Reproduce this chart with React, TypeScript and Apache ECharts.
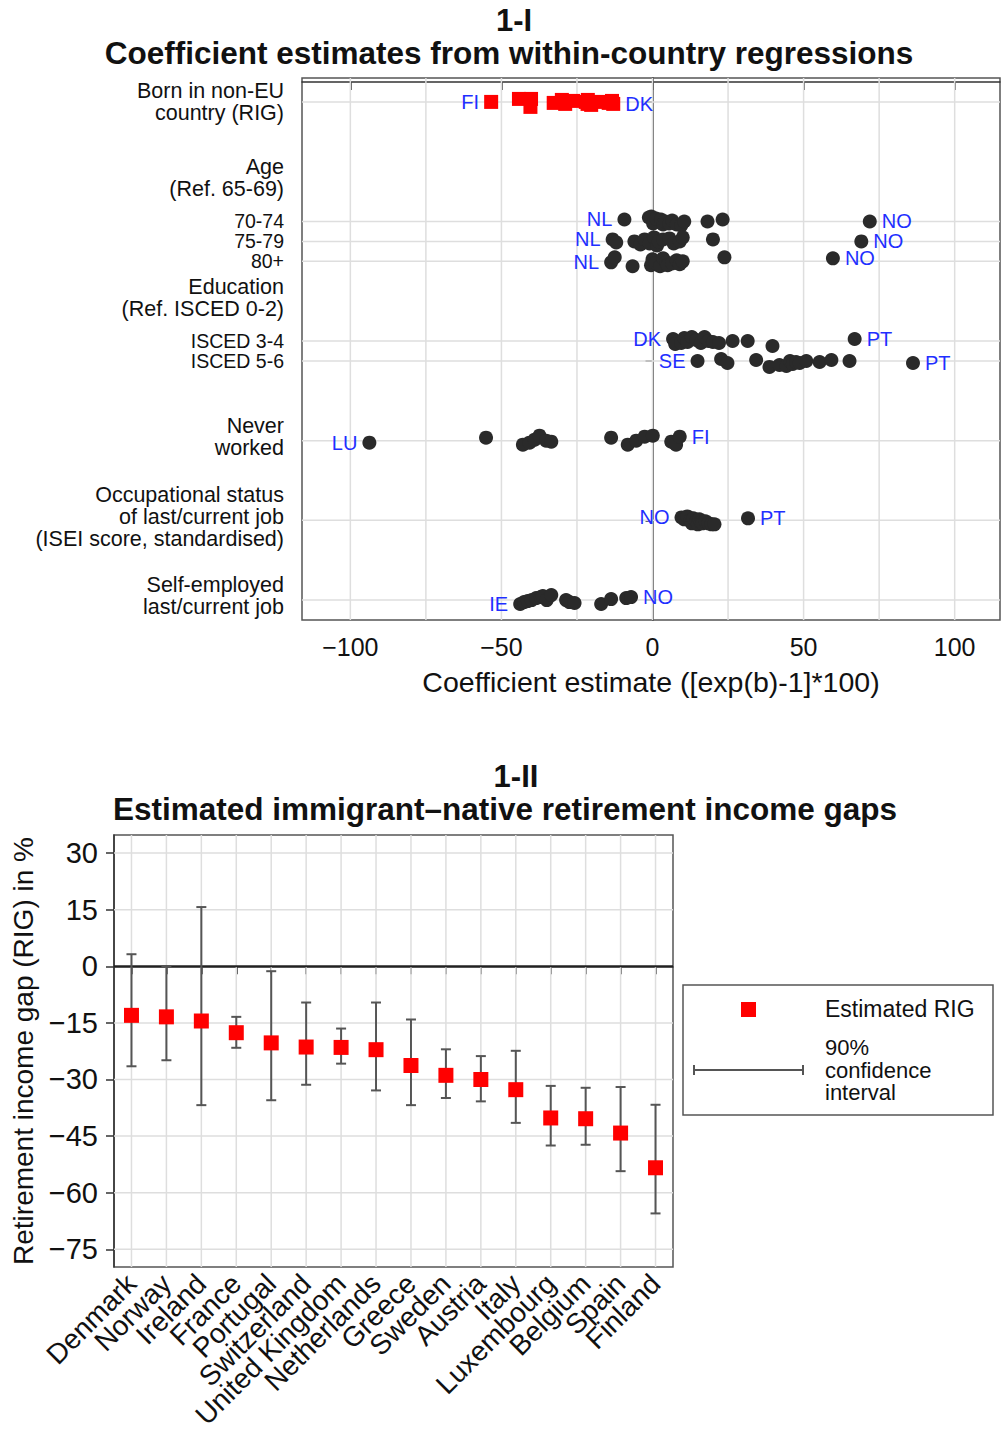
import React, { useEffect, useRef } from "react";
import * as echarts from "echarts";

const FONT = "Liberation Sans, Arial, Helvetica, sans-serif";
const BLUE = "#1f2fff";
const DOT = "#2a2a2a";
const RED = "#ff0000";

// ---------- Panel 1-II data ----------
const countries = [
  "Denmark", "Norway", "Ireland", "France", "Portugal", "Switzerland",
  "United Kingdom", "Netherlands", "Greece", "Sweden", "Austria", "Italy",
  "Luxembourg", "Belgium", "Spain", "Finland",
];
const rig = [-13.0, -13.4, -14.5, -17.6, -20.3, -21.4, -21.5, -22.1, -26.3, -28.9, -30.0, -32.7, -40.2, -40.4, -44.2, -53.4];
const ciUpper = [3.2, 0.0, 15.7, -13.4, -1.3, -9.6, -16.5, -9.6, -14.1, -22.0, -23.8, -22.4, -31.7, -32.2, -32.0, -36.7];
const ciLower = [-26.5, -24.9, -36.8, -21.6, -35.5, -31.4, -25.8, -32.9, -36.8, -34.9, -35.8, -41.5, -47.5, -47.3, -54.3, -65.5];
const bottomYTicks = [-75, -60, -45, -30, -15, 0, 15, 30];

// ---------- Panel 1-I data ----------
const rigJitter = [0.1, -0.05, 0.05, 0.0, 0.15, -0.1, 0.1, 0.0, -0.05, 0.1, -0.1, 0.05, -0.15, 0.25, -0.15, 0.0];

const age7074 = [-9.3, -1.2, -0.4, 0.2, 1.2, 2.8, 3.5, 4.2, 5.5, 6.5, 8.0, 9.5, 10.5, 18.2, 23.2, 71.9];
const age7074Jit = [-0.1, -0.2, -0.25, 0.1, -0.15, -0.1, 0.15, 0.0, 0.1, -0.05, 0.15, 0.2, 0.0, 0.0, -0.1, 0.0];
const age7579 = [-13.2, -12.0, -6.0, -4.0, -2.6, -1.0, 0.5, 1.5, 2.0, 3.5, 5.6, 7.0, 9.0, 10.0, 20.0, 69.1];
const age7579Jit = [-0.1, 0.05, 0.0, 0.15, -0.1, 0.1, -0.2, 0.2, 0.0, -0.1, -0.15, 0.1, 0.0, -0.2, -0.1, 0.0];
const age80 = [-13.7, -12.5, -6.6, -0.5, 0.0, 1.0, 2.5, 3.5, 4.5, 5.0, 6.5, 8.0, 9.0, 10.0, 23.8, 59.7];
const age80Jit = [0.05, -0.2, 0.25, 0.2, -0.1, 0.1, 0.25, -0.15, 0.05, 0.2, 0.1, -0.05, 0.15, 0.0, -0.2, -0.15];
const isced34 = [6.8, 7.5, 9.5, 10.5, 11.6, 13.0, 14.5, 16.0, 17.2, 18.5, 20.0, 22.0, 26.5, 31.5, 39.7, 66.9];
const isced34Jit = [-0.1, 0.15, 0.1, -0.15, 0.05, -0.2, -0.05, 0.1, -0.2, 0.0, 0.05, 0.1, 0.0, 0.0, 0.25, -0.1];
const isced56 = [14.9, 22.7, 24.8, 34.3, 38.7, 42.0, 44.3, 45.5, 46.4, 47.5, 48.7, 50.9, 55.3, 59.2, 65.2, 86.2];
const isced56Jit = [0.0, -0.1, 0.1, -0.05, 0.3, 0.2, 0.25, 0.0, 0.15, 0.05, 0.1, 0.0, 0.05, -0.05, 0.0, 0.1];
const neverWorked = [-93.7, -55.1, -42.9, -40.7, -39.0, -37.4, -35.2, -33.5, -13.7, -8.2, -5.4, -2.6, 0.1, 6.2, 7.8, 9.0];
const neverWorkedJit = [0.1, -0.15, 0.2, 0.1, -0.05, -0.25, 0.0, 0.05, -0.15, 0.2, 0.0, -0.2, -0.25, 0.05, 0.2, -0.2];
const occStatus = [9.6, 10.5, 11.5, 12.5, 13.0, 13.5, 14.5, 15.0, 15.5, 16.0, 16.5, 17.5, 18.5, 19.5, 20.5, 31.6];
const occStatusJit = [-0.15, -0.05, -0.2, 0.0, 0.15, -0.1, 0.05, 0.2, -0.05, 0.1, 0.15, 0.05, 0.15, 0.2, 0.2, -0.1];
const selfEmployed = [-43.8, -42.5, -41.3, -40.0, -38.5, -37.0, -36.3, -35.0, -33.5, -28.6, -27.5, -25.8, -17.0, -13.7, -8.7, -7.1];
const selfEmployedJit = [0.2, 0.1, 0.05, 0.0, -0.1, -0.15, -0.2, 0.0, -0.25, 0.0, 0.1, 0.15, 0.2, -0.05, -0.1, -0.15];

const topXTicks = [-100, -50, 0, 50, 100];
const topXGrid = [-100, -75, -50, -25, 0, 25, 50, 75, 100];
const topRows = [1, 7, 8, 9, 13, 14, 18, 22, 26];
const topLabelPos = [1, 4.84, 7, 8, 9, 10.86, 13, 14, 17.84, 21.85, 25.8];
const topLabelText = [
  "Born in non-EU\ncountry (RIG)",
  "Age\n(Ref. 65-69)",
  "70-74",
  "75-79",
  "80+",
  "Education\n(Ref. ISCED 0-2)",
  "ISCED 3-4",
  "ISCED 5-6",
  "Never\nworked",
  "Occupational status\nof last/current job\n(ISEI score, standardised)",
  "Self-employed\nlast/current job",
];

const blackRows = [
  { pos: 7, vals: age7074, jit: age7074Jit, left: "NL", right: "NO" },
  { pos: 8, vals: age7579, jit: age7579Jit, left: "NL", right: "NO" },
  { pos: 9, vals: age80, jit: age80Jit, left: "NL", right: "NO" },
  { pos: 13, vals: isced34, jit: isced34Jit, left: "DK", right: "PT" },
  { pos: 14, vals: isced56, jit: isced56Jit, left: "SE", right: "PT" },
  { pos: 18, vals: neverWorked, jit: neverWorkedJit, left: "LU", right: "FI" },
  { pos: 22, vals: occStatus, jit: occStatusJit, left: "NO", right: "PT" },
  { pos: 26, vals: selfEmployed, jit: selfEmployedJit, left: "IE", right: "NO" },
];

const minus = (v: number) => (v < 0 ? "\u2212" + Math.abs(v) : String(v));

function lab(text: string, position: string) {
  return {
    show: true,
    position,
    distance: 5,
    formatter: text,
    color: BLUE,
    fontSize: 20,
    lineHeight: 17,
    fontFamily: FONT,
  };
}

function rowItems(vals: number[], jit: number[], pos: number, left: string, right: string) {
  const mn = Math.min(...vals);
  const mx = Math.max(...vals);
  const iMin = vals.indexOf(mn);
  const iMax = vals.indexOf(mx);
  return vals.map((v, i) => {
    const item: any = { value: [v, pos + jit[i]] };
    if (i === iMin) item.label = lab(left, "left");
    if (i === iMax) item.label = lab(right, "right");
    return item;
  });
}

const App: React.FC = () => {
  const ref = useRef<HTMLDivElement>(null);

  useEffect(() => {
    document.body.style.margin = "0";
    if (!ref.current) return;
    const chart = echarts.init(ref.current, undefined, { renderer: "svg" });

    const blackData: any[] = [];
    blackRows.forEach((r) => blackData.push(...rowItems(r.vals, r.jit, r.pos, r.left, r.right)));
    const redData = rowItems(rig, rigJitter, 1, "FI", "DK");

    const gridStroke = "#dedede";

    const option: any = {
      animation: false,
      backgroundColor: "#ffffff",
      textStyle: { fontFamily: FONT, color: "#111" },
      grid: [
        { left: 302, top: 78, width: 698, height: 542, show: true, borderColor: "#555", borderWidth: 1.5, backgroundColor: "#fff" },
        { left: 114, top: 835, width: 559, height: 432, show: true, borderColor: "#555", borderWidth: 1.5, backgroundColor: "#fff" },
      ],
      xAxis: [
        {
          type: "value", gridIndex: 0, min: -116, max: 115,
          splitLine: { show: false },
          axisLine: { show: true, lineStyle: { color: "#333", width: 1.5 } },
          axisTick: { show: true, customValues: topXTicks, length: 8, lineStyle: { color: "#333", width: 1.5 } },
          axisLabel: { customValues: topXTicks, fontSize: 25, color: "#111", margin: 14, fontFamily: FONT, formatter: minus },
          name: "Coefficient estimate ([exp(b)-1]*100)",
          nameLocation: "middle", nameGap: 47,
          nameTextStyle: { fontSize: 28.5, color: "#111", fontFamily: FONT },
        },
        {
          type: "category", gridIndex: 1, data: countries, boundaryGap: true,
          splitLine: { show: false },
          axisLine: { show: true, lineStyle: { color: "#333", width: 1.5 } },
          axisTick: { show: true, alignWithLabel: true, length: 8, lineStyle: { color: "#333", width: 1.5 } },
          axisLabel: { interval: 0, rotate: 45, fontSize: 28, color: "#111", margin: 12, fontFamily: FONT },
        },
      ],
      yAxis: [
        {
          type: "value", gridIndex: 0, inverse: true, min: -0.2, max: 27,
          splitLine: { show: false },
          axisLine: { show: true, lineStyle: { color: "#333", width: 1.5 } },
          axisTick: { show: true, customValues: topRows, length: 7, lineStyle: { color: "#333", width: 1.5 } },
          axisLabel: {
            customValues: topLabelPos,
            color: "#111", margin: 18, fontFamily: FONT,
            formatter: (v: number) => {
              const i = topLabelPos.findIndex((p) => Math.abs(p - v) < 0.01);
              if (i < 0) return "";
              const t = topLabelText[i];
              if (t.indexOf("\n") >= 0) {
                return t.split("\n").map((s) => `{m|${s}}`).join("\n");
              }
              return `{s|${t}}`;
            },
            rich: {
              m: { fontSize: 21.5, lineHeight: 22, fontFamily: FONT, color: "#111", align: "right" },
              s: { fontSize: 19.5, lineHeight: 18, fontFamily: FONT, color: "#111", align: "right" },
            },
          },
        },
        {
          type: "value", gridIndex: 1, min: -79.7, max: 34.8,
          splitLine: { show: false },
          axisLine: { show: true, lineStyle: { color: "#333", width: 1.5 } },
          axisTick: { show: true, customValues: bottomYTicks, length: 8, lineStyle: { color: "#333", width: 1.5 } },
          axisLabel: { customValues: bottomYTicks, fontSize: 29, color: "#111", margin: 16, fontFamily: FONT, formatter: minus },
          name: "Retirement income gap (RIG) in %",
          nameLocation: "middle", nameGap: 75,
          nameTextStyle: { fontSize: 28, color: "#111", fontFamily: FONT },
        },
      ],
      series: [
        {
          type: "custom", xAxisIndex: 0, yAxisIndex: 0, silent: true, z: 1,
          data: topXGrid.map((v) => [v, 0]),
          renderItem: (params: any, api: any) => {
            const cs = params.coordSys;
            const p = api.coord([api.value(0), 0]);
            return { type: "line", shape: { x1: p[0], y1: cs.y, x2: p[0], y2: cs.y + cs.height }, style: { stroke: gridStroke, lineWidth: 1.5 } };
          },
        },
        {
          type: "custom", xAxisIndex: 0, yAxisIndex: 0, silent: true, z: 1,
          data: topRows.map((r) => [0, r]),
          renderItem: (params: any, api: any) => {
            const cs = params.coordSys;
            const p = api.coord([0, api.value(1)]);
            return { type: "line", shape: { x1: cs.x, y1: p[1], x2: cs.x + cs.width, y2: p[1] }, style: { stroke: gridStroke, lineWidth: 1.5 } };
          },
        },
        {
          type: "scatter", xAxisIndex: 0, yAxisIndex: 0, z: 3,
          symbol: "circle", symbolSize: 14,
          itemStyle: { color: DOT, opacity: 1 },
          data: blackData,
        },
        {
          type: "scatter", xAxisIndex: 0, yAxisIndex: 0, z: 4,
          symbol: "rect", symbolSize: 14,
          itemStyle: { color: RED, opacity: 1 },
          data: redData,
        },
        {
          type: "custom", xAxisIndex: 1, yAxisIndex: 1, silent: true, z: 1,
          data: countries.map((c, i) => [i, 0]),
          renderItem: (params: any, api: any) => {
            const cs = params.coordSys;
            const p = api.coord([api.value(0), 0]);
            return { type: "line", shape: { x1: p[0], y1: cs.y, x2: p[0], y2: cs.y + cs.height }, style: { stroke: gridStroke, lineWidth: 1.5 } };
          },
        },
        {
          type: "custom", xAxisIndex: 1, yAxisIndex: 1, silent: true, z: 1,
          data: bottomYTicks.map((v) => [0, v]),
          renderItem: (params: any, api: any) => {
            const cs = params.coordSys;
            const v = api.value(1);
            const p = api.coord([0, v]);
            const zero = v === 0;
            return {
              type: "line", z2: zero ? 5 : 0,
              shape: { x1: cs.x, y1: p[1], x2: cs.x + cs.width, y2: p[1] },
              style: { stroke: zero ? "#222" : gridStroke, lineWidth: zero ? 2 : 1.5 },
            };
          },
        },
        {
          type: "custom", xAxisIndex: 1, yAxisIndex: 1, z: 3, silent: true,
          data: countries.map((c, i) => [i, ciLower[i], ciUpper[i]]),
          encode: { x: 0, y: [1, 2] },
          renderItem: (params: any, api: any) => {
            const x = api.value(0);
            const lo = api.coord([x, api.value(1)]);
            const hi = api.coord([x, api.value(2)]);
            const w = 5;
            const st = { stroke: "#555", lineWidth: 2 };
            return {
              type: "group",
              children: [
                { type: "line", shape: { x1: lo[0], y1: lo[1], x2: hi[0], y2: hi[1] }, style: st },
                { type: "line", shape: { x1: lo[0] - w, y1: lo[1], x2: lo[0] + w, y2: lo[1] }, style: st },
                { type: "line", shape: { x1: hi[0] - w, y1: hi[1], x2: hi[0] + w, y2: hi[1] }, style: st },
              ],
            };
          },
        },
        {
          type: "scatter", xAxisIndex: 1, yAxisIndex: 1, z: 4,
          symbol: "rect", symbolSize: 15,
          itemStyle: { color: RED, opacity: 1 },
          data: rig,
        },
      ],
      graphic: [
        { type: "text", x: 514, y: 20, style: { text: "1-I", font: `bold 31px ${FONT}`, fill: "#111", textAlign: "center", textVerticalAlign: "middle" } },
        { type: "text", x: 509, y: 53, style: { text: "Coefficient estimates from within-country regressions", font: `bold 31.5px ${FONT}`, fill: "#111", textAlign: "center", textVerticalAlign: "middle" } },
        { type: "text", x: 516, y: 776, style: { text: "1-II", font: `bold 31px ${FONT}`, fill: "#111", textAlign: "center", textVerticalAlign: "middle" } },
        { type: "text", x: 505, y: 809, style: { text: "Estimated immigrant\u2013native retirement income gaps", font: `bold 31.5px ${FONT}`, fill: "#111", textAlign: "center", textVerticalAlign: "middle" } },
        { type: "rect", shape: { x: 683, y: 985, width: 310, height: 130 }, style: { fill: "#fff", stroke: "#555", lineWidth: 1.5 } },
        { type: "rect", shape: { x: 741, y: 1002, width: 15, height: 15 }, style: { fill: RED } },
        { type: "text", x: 825, y: 1009, style: { text: "Estimated RIG", font: `23px ${FONT}`, fill: "#111", textAlign: "left", textVerticalAlign: "middle" } },
        { type: "line", shape: { x1: 694, y1: 1070, x2: 803, y2: 1070 }, style: { stroke: "#555", lineWidth: 2 } },
        { type: "line", shape: { x1: 694, y1: 1065, x2: 694, y2: 1075 }, style: { stroke: "#555", lineWidth: 2 } },
        { type: "line", shape: { x1: 803, y1: 1065, x2: 803, y2: 1075 }, style: { stroke: "#555", lineWidth: 2 } },
        { type: "text", x: 825, y: 1070, style: { text: "90%\nconfidence\ninterval", font: `22px ${FONT}`, lineHeight: 22.5, fill: "#111", textAlign: "left", textVerticalAlign: "middle" } },
      ],
    };

    chart.setOption(option);
    return () => chart.dispose();
  }, []);

  return <div ref={ref} style={{ width: 1003, height: 1439 }} />;
};

export default App;
